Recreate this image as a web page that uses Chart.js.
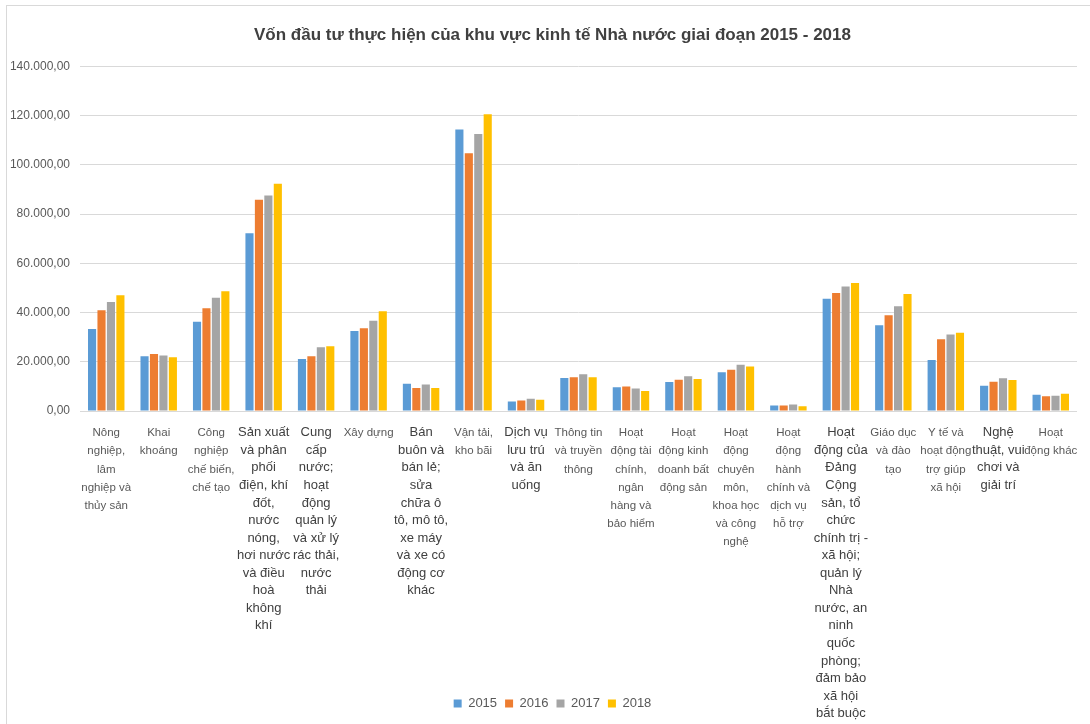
<!DOCTYPE html>
<html>
<head>
<meta charset="utf-8">
<script src="https://cdn.jsdelivr.net/npm/chart.js@4"></script>
<style>
  html, body { margin: 0; padding: 0; background: #fff; overflow: hidden; }
  #wrap { position: relative; width: 1090px; height: 724px; }
  #frame {
    position: absolute; left: 6px; top: 5px; right: -10px; bottom: -10px;
    border: 1px solid #D9D9D9; pointer-events: none;
  }
</style>
</head>
<body>
<div id="wrap"><canvas id="chart"></canvas><div id="frame"></div></div>
<script>
// categories, already broken into lines like the original axis
const categories = [
  ['Nông', 'nghiệp,', 'lâm', 'nghiệp và', 'thủy sản'],
  ['Khai', 'khoáng'],
  ['Công', 'nghiệp', 'chế biến,', 'chế tạo'],
  ['Sản xuất', 'và phân', 'phối', 'điện, khí', 'đốt,', 'nước', 'nóng,', 'hơi nước', 'và điều', 'hoà', 'không', 'khí'],
  ['Cung', 'cấp', 'nước;', 'hoạt', 'động', 'quản lý', 'và xử lý', 'rác thải,', 'nước', 'thải'],
  ['Xây dựng'],
  ['Bán', 'buôn và', 'bán lẻ;', 'sửa', 'chữa ô', 'tô, mô tô,', 'xe máy', 'và xe có', 'động cơ', 'khác'],
  ['Vận tải,', 'kho bãi'],
  ['Dịch vụ', 'lưu trú', 'và ăn', 'uống'],
  ['Thông tin', 'và truyền', 'thông'],
  ['Hoạt', 'động tài', 'chính,', 'ngân', 'hàng và', 'bảo hiểm'],
  ['Hoạt', 'động kinh', 'doanh bất', 'động sản'],
  ['Hoạt', 'động', 'chuyên', 'môn,', 'khoa học', 'và công', 'nghệ'],
  ['Hoạt', 'động', 'hành', 'chính và', 'dịch vụ', 'hỗ trợ'],
  ['Hoạt', 'động của', 'Đảng', 'Cộng', 'sản, tổ', 'chức', 'chính trị -', 'xã hội;', 'quản lý', 'Nhà', 'nước, an', 'ninh', 'quốc', 'phòng;', 'đảm bảo', 'xã hội', 'bắt buộc'],
  ['Giáo dục', 'và đào', 'tạo'],
  ['Y tế và', 'hoạt động', 'trợ giúp', 'xã hội'],
  ['Nghệ', 'thuật, vui', 'chơi và', 'giải trí'],
  ['Hoạt', 'động khác']
];

const years = ['2015', '2016', '2017', '2018'];

const y2015 = [33300, 22200, 36300, 72200, 21100, 32500, 11100, 114400, 3900, 13400, 9600, 11800, 15700, 2200, 45600, 34800, 20700, 10300, 6600];
const y2016 = [40900, 23200, 41700, 85800, 22200, 33600, 9300, 104700, 4300, 13700, 10000, 12700, 16800, 2200, 47900, 38900, 29100, 11900, 6000];
const y2017 = [44300, 22500, 46000, 87600, 25900, 36700, 10800, 112500, 5000, 14900, 9100, 14100, 18800, 2600, 50600, 42600, 31100, 13300, 6200];
const y2018 = [47000, 21800, 48700, 92300, 26300, 40500, 9300, 120600, 4600, 13700, 8100, 13000, 18100, 1900, 52000, 47500, 31800, 12600, 7000];

const yTicks = [0, 20000, 40000, 60000, 80000, 100000, 120000, 140000];

// labels that look larger in the original picture
const bigLabels = [3, 4, 6, 8, 14, 17];

const colors = ['#5B9BD5', '#ED7D31', '#A5A5A5', '#FFC000'];
const textColor = '#595959';
const fontFamily = '"Liberation Sans", Arial, sans-serif';

function fmt(v) {
  const s = Math.round(v).toString().replace(/\B(?=(\d{3})+(?!\d))/g, '.');
  return s + ',00';
}

// let tick labels spill out of their scale box, as in the original
const noLabelClip = (scale) => { scale._computeLabelArea = () => undefined; };

const series = [y2015, y2016, y2017, y2018];

new Chart(document.getElementById('chart'), {
  type: 'bar',
  data: {
    labels: categories,
    datasets: series.map((data, i) => ({
      label: years[i],
      data: data,
      backgroundColor: colors[i],
      borderWidth: 0,
      categoryPercentage: 0.72,
      barPercentage: 0.86,
    })),
  },
  options: {
    responsive: true,
    maintainAspectRatio: false,
    animation: false,
    layout: {
      padding: { left: 28, right: 13, top: 0, bottom: 4 },
    },
    plugins: {
      title: {
        display: true,
        text: 'Vốn đầu tư thực hiện của khu vực kinh tế Nhà nước giai đoạn 2015 - 2018',
        color: '#404040',
        font: { family: fontFamily, size: 17, weight: 'bold' },
        padding: { top: 25, bottom: 21 },
      },
      legend: {
        position: 'bottom',
        labels: {
          color: textColor,
          boxWidth: 8,
          boxHeight: 8,
          padding: 8,
          font: { family: fontFamily, size: 13 },
        },
      },
      tooltip: { enabled: false },
    },
    scales: {
      x: {
        grid: { display: false },
        border: { display: false },
        afterFit: (scale) => {
          scale.height = 278;
          noLabelClip(scale);
        },
        ticks: {
          autoSkip: false,
          maxRotation: 0,
          minRotation: 0,
          padding: 5,
          color: (ctx) => bigLabels.includes(ctx.index) ? '#404040' : textColor,
          font: (ctx) => bigLabels.includes(ctx.index)
            ? { family: fontFamily, size: 13, lineHeight: 1.35 }
            : { family: fontFamily, size: 11.5, lineHeight: 1.58 },
        },
      },
      y: {
        min: 0,
        max: 140000,
        afterFit: (scale) => {
          scale.width = 52;
          noLabelClip(scale);
        },
        afterBuildTicks: (scale) => { scale.ticks = yTicks.map((v) => ({ value: v })); },
        grid: { color: '#D9D9D9', lineWidth: 1, drawTicks: false },
        border: { display: false },
        ticks: {
          padding: 10,
          color: textColor,
          font: { family: fontFamily, size: 12 },
          callback: (v) => fmt(v),
        },
      },
    },
  },
});
</script>
</body>
</html>
